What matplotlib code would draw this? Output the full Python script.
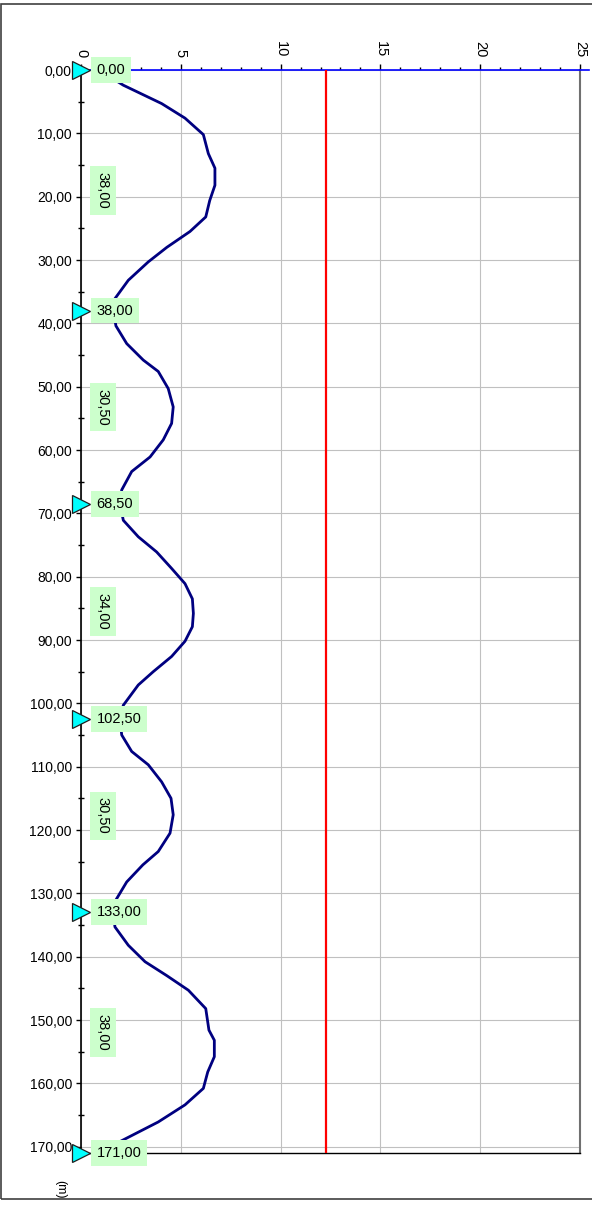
import numpy as np
import matplotlib
matplotlib.use('Agg')
from matplotlib import pyplot as plt
from matplotlib.ticker import MultipleLocator, FuncFormatter
from matplotlib.patches import Rectangle

plt.rcParams['font.family'] = ['Liberation Sans', 'DejaVu Sans']

# apoyos (m) y perfil del tramo entre ellos
apoyos = [0, 38, 68.5, 102.5, 133, 171]

tramo1_y = [0, 2.4, 5.3, 7.6, 10.2, 13.2, 15.5, 18.2, 20.6, 23.2, 25.5, 28.0, 30.3, 33.2, 36.1, 38]
tramo1_x = [0.9, 2.12, 4.04, 5.21, 6.13, 6.38, 6.71, 6.71, 6.45, 6.25, 5.46, 4.3, 3.37, 2.37, 1.70, 1.62]

tramo2_y = [40.4, 43.2, 45.8, 47.6, 50.3, 53.2, 55.8, 58.4, 61.1, 63.4, 66.3, 68.5]
tramo2_x = [1.75, 2.29, 3.12, 3.87, 4.37, 4.62, 4.54, 4.12, 3.46, 2.54, 2.04, 1.95]

tramo3_y = [71.1, 73.7, 76.1, 78.7, 81.1, 83.5, 85.8, 87.9, 90.2, 92.6, 95.0, 97.1, 100.3, 102.5]
tramo3_x = [2.12, 2.87, 3.79, 4.54, 5.21, 5.58, 5.63, 5.58, 5.21, 4.54, 3.62, 2.87, 2.12, 1.95]

tramo4_y = [105.0, 107.6, 109.7, 112.4, 115.0, 117.6, 120.5, 123.4, 125.5, 128.2, 131.3, 133]
tramo4_x = [2.04, 2.54, 3.37, 4.04, 4.51, 4.62, 4.46, 3.87, 3.10, 2.29, 1.70, 1.62]

tramo5_y = [135.3, 138.2, 140.8, 143.0, 145.3, 148.2, 151.6, 153.2, 155.8, 158.2, 160.8, 163.4, 166.1, 169.2, 171]
tramo5_x = [1.70, 2.37, 3.21, 4.3, 5.38, 6.25, 6.41, 6.68, 6.68, 6.35, 6.13, 5.21, 3.87, 1.95, 0.9]

x_limite = 12.25

perfil_y = tramo1_y + tramo2_y + tramo3_y + tramo4_y + tramo5_y
perfil_x = tramo1_x + tramo2_x + tramo3_x + tramo4_x + tramo5_x
vanos = np.diff(apoyos)
centros = [(a + b) / 2 for a, b in zip(apoyos[:-1], apoyos[1:])]


def coma(v, pos=None):
    return f"{v:.2f}".replace('.', ',')


W, H = 592, 1207
fig = plt.figure(figsize=(W / 100, H / 100), dpi=100)
ax = fig.add_axes([81 / W, 1 - 1153 / H, (580 - 81) / W, (1153 - 70) / H])

ax.set_xlim(0, 25)
ax.set_ylim(171, 0)

ax.xaxis.tick_top()
ax.xaxis.set_minor_locator(MultipleLocator(1))
ax.yaxis.set_minor_locator(MultipleLocator(5))
ax.yaxis.set_major_formatter(FuncFormatter(coma))
ax.set_xticks(np.arange(0, 26, 5))
ax.set_yticks(np.arange(0, 171, 10))

ax.tick_params(axis='x', which='major', direction='out', length=4, width=1, pad=5,
               labelsize=10.5, labelrotation=-90)
ax.tick_params(axis='x', which='minor', direction='out', length=2.5, width=1)
ax.tick_params(axis='y', which='major', direction='out', length=3.5, width=1, pad=3,
               labelsize=10)
ax.tick_params(axis='y', which='minor', direction='inout', length=4, width=1)

ax.grid(True, which='major', color='#c0c0c0', linewidth=0.8)
ax.set_axisbelow(True)

ax.spines['top'].set_visible(False)
ax.spines['left'].set_color('black')
ax.spines['left'].set_linewidth(1.2)
ax.spines['bottom'].set_color('black')
ax.spines['bottom'].set_linewidth(1.0)
ax.spines['right'].set_color('#707070')
ax.spines['right'].set_linewidth(1.5)

# linea de referencia superior y limite
ax.plot([0, 25.45], [0, 0], color='#0000ff', linewidth=1.2, clip_on=False, zorder=3)
ax.plot([x_limite, x_limite], [0, 171], color='red', linewidth=1.6, zorder=3)

ax.plot(perfil_x, perfil_y, color='#000080', linewidth=2.0, zorder=4)

ax.plot(np.zeros(len(apoyos)), apoyos, linestyle='none', marker='>', markersize=12.5,
        markerfacecolor='#00ffff', markeredgecolor='#202020', markeredgewidth=0.9,
        clip_on=False, zorder=6)

caja = dict(boxstyle='square,pad=0.4', facecolor='#ccffcc', edgecolor='none')
for a in apoyos:
    ax.text(0.78, a, coma(a), ha='left', va='center', fontsize=10.5, bbox=caja,
            zorder=7, clip_on=False)
for c, v in zip(centros, vanos):
    ax.text(1.1, c, coma(v), ha='center', va='center', fontsize=10.5, rotation=-90,
            bbox=caja, zorder=7)

fig.text(60 / W, 1 - 1189 / H, '(m)', rotation=-90, ha='center', va='center', fontsize=9)

fig.patches.append(Rectangle((1 / W, 1 - 1199 / H), 1.2, (1199 - 3.5) / H,
                             transform=fig.transFigure, fill=False,
                             edgecolor='#404040', linewidth=1.2))

fig.savefig('out.png', dpi=100)
